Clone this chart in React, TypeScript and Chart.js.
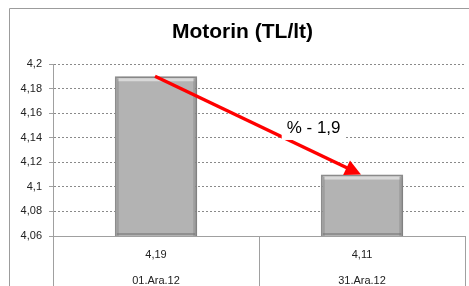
import React, { useEffect, useRef } from 'react';
import { Chart, registerables } from 'chart.js';

Chart.register(...registerables);

const titleText = 'Motorin (TL/lt)';
const categories = ['01.Ara.12', '31.Ara.12'];
const prices = [4.19, 4.11];
const yMin = 4.06;
const yMax = 4.2;
const yStep = 0.02;

const FONT = "'Liberation Sans', Arial, sans-serif";

const fmt = (v: number) => String(Number(Number(v).toFixed(2))).replace('.', ',');

const framePlugin = {
  id: 'frame',
  beforeDraw(chart: any) {
    const ctx = chart.ctx;
    ctx.save();
    ctx.strokeStyle = '#9c9c9c';
    ctx.lineWidth = 1;
    ctx.beginPath();
    ctx.moveTo(9.5, chart.height);
    ctx.lineTo(9.5, 8.5);
    ctx.lineTo(chart.width, 8.5);
    ctx.stroke();
    ctx.restore();
  },
};

const barStylePlugin = {
  id: 'barStyle',
  beforeDatasetsDraw(chart: any) {
    const ctx = chart.ctx;
    ctx.save();
    ctx.shadowColor = 'rgba(0,0,0,0.18)';
    ctx.shadowBlur = 5;
    ctx.shadowOffsetX = 2;
    ctx.shadowOffsetY = 1;
  },
  afterDatasetsDraw(chart: any) {
    const ctx = chart.ctx;
    ctx.restore();
    const meta = chart.getDatasetMeta(0);
    const bottom = chart.chartArea.bottom;
    ctx.save();
    meta.data.forEach((el: any) => {
      const left = el.x - el.width / 2;
      const w = el.width;
      const h = bottom - el.y - 2;
      ctx.fillStyle = '#d9d9d9';
      ctx.fillRect(left + 3, el.y + 2, w - 6, 3);
      ctx.fillStyle = 'rgba(120,120,120,0.35)';
      ctx.fillRect(left + 2, el.y + 2, 2, h);
      ctx.fillRect(left + w - 4, el.y + 2, 2, h);
      ctx.fillStyle = 'rgba(110,110,110,0.5)';
      ctx.fillRect(left + 2, bottom - 3, w - 4, 2);
    });
    ctx.restore();
  },
};

const arrowPlugin = {
  id: 'arrow',
  afterDraw(chart: any) {
    const ctx = chart.ctx;
    const meta = chart.getDatasetMeta(0);
    const a = meta.data[0];
    const b = meta.data[1];
    const x1 = a.x - 1, y1 = a.y;
    const x2 = b.x - 1, y2 = b.y;
    const ang = Math.atan2(y2 - y1, x2 - x1);
    const cos = Math.cos(ang), sin = Math.sin(ang);
    const headLen = 16, headW = 8;
    const bx = x2 - headLen * cos, by = y2 - headLen * sin;
    ctx.save();
    ctx.strokeStyle = '#ff0000';
    ctx.fillStyle = '#ff0000';
    ctx.lineWidth = 3.5;
    ctx.beginPath();
    ctx.moveTo(x1, y1);
    ctx.lineTo(bx + 2 * cos, by + 2 * sin);
    ctx.stroke();
    ctx.beginPath();
    ctx.moveTo(x2, y2);
    ctx.lineTo(bx - headW * sin, by + headW * cos);
    ctx.lineTo(bx + headW * sin, by - headW * cos);
    ctx.closePath();
    ctx.fill();

    const change = ((prices[1] - prices[0]) / prices[0]) * 100;
    const label = '% - ' + Math.abs(change).toFixed(1).replace('.', ',');
    const t = 0.77;
    const cx = x1 + (x2 - x1) * t;
    const cy = y1 + (y2 - y1) * t - 24;
    ctx.font = `17px ${FONT}`;
    const tw = ctx.measureText(label).width;
    ctx.fillStyle = '#ffffff';
    ctx.fillRect(cx - tw / 2 - 5, cy - 12, tw + 10, 24);
    ctx.fillStyle = '#000000';
    ctx.textAlign = 'center';
    ctx.textBaseline = 'middle';
    ctx.fillText(label, cx, cy);
    ctx.restore();
  },
};

export default function App() {
  const ref = useRef<HTMLCanvasElement | null>(null);

  useEffect(() => {
    if (!ref.current) return;
    const chart = new Chart(ref.current, {
      type: 'bar',
      data: {
        labels: categories.map((c, i) => [fmt(prices[i]), c]),
        datasets: [
          {
            data: prices,
            backgroundColor: '#b3b3b3',
            borderColor: '#8e8e8e',
            borderWidth: 2,
            barPercentage: 0.4,
            categoryPercentage: 1,
          },
        ],
      },
      options: {
        animation: false,
        responsive: true,
        maintainAspectRatio: false,
        layout: { padding: { left: 20, right: 4, top: 0, bottom: 0 } },
        plugins: {
          legend: { display: false },
          tooltip: { enabled: false },
          title: {
            display: true,
            text: titleText,
            color: '#000',
            font: { family: FONT, size: 21, weight: 'bold', lineHeight: 1.2 },
            padding: { top: 20, bottom: 18.8 },
          },
        },
        scales: {
          x: {
            offset: true,
            grid: {
              offset: true,
              drawOnChartArea: false,
              drawTicks: true,
              tickLength: 50,
              color: '#a0a0a0',
              tickColor: '#a0a0a0',
            },
            border: { display: true, color: '#a0a0a0' },
            ticks: {
              padding: -44,
              color: '#222',
              font: { family: FONT, size: 11, lineHeight: '26px' as any },
            },
            afterFit: (s: any) => {
              s.height = 50;
            },
          },
          y: {
            min: yMin,
            max: yMax,
            ticks: {
              stepSize: yStep,
              padding: 7,
              color: '#222',
              font: { family: FONT, size: 11 },
              callback: (v: any) => fmt(v),
            },
            grid: {
              color: '#8a8a8a',
              tickColor: '#a0a0a0',
              tickLength: 4,
              tickBorderDash: [],
            },
            border: { display: true, color: '#a0a0a0', dash: [2, 2] },
            afterFit: (s: any) => {
              s.width = 33;
            },
          },
        },
      },
      plugins: [framePlugin, barStylePlugin, arrowPlugin],
    });
    return () => chart.destroy();
  }, []);

  return (
    <div style={{ position: 'fixed', left: 0, top: 0, width: 469, height: 286, background: '#fff' }}>
      <canvas ref={ref} />
    </div>
  );
}
